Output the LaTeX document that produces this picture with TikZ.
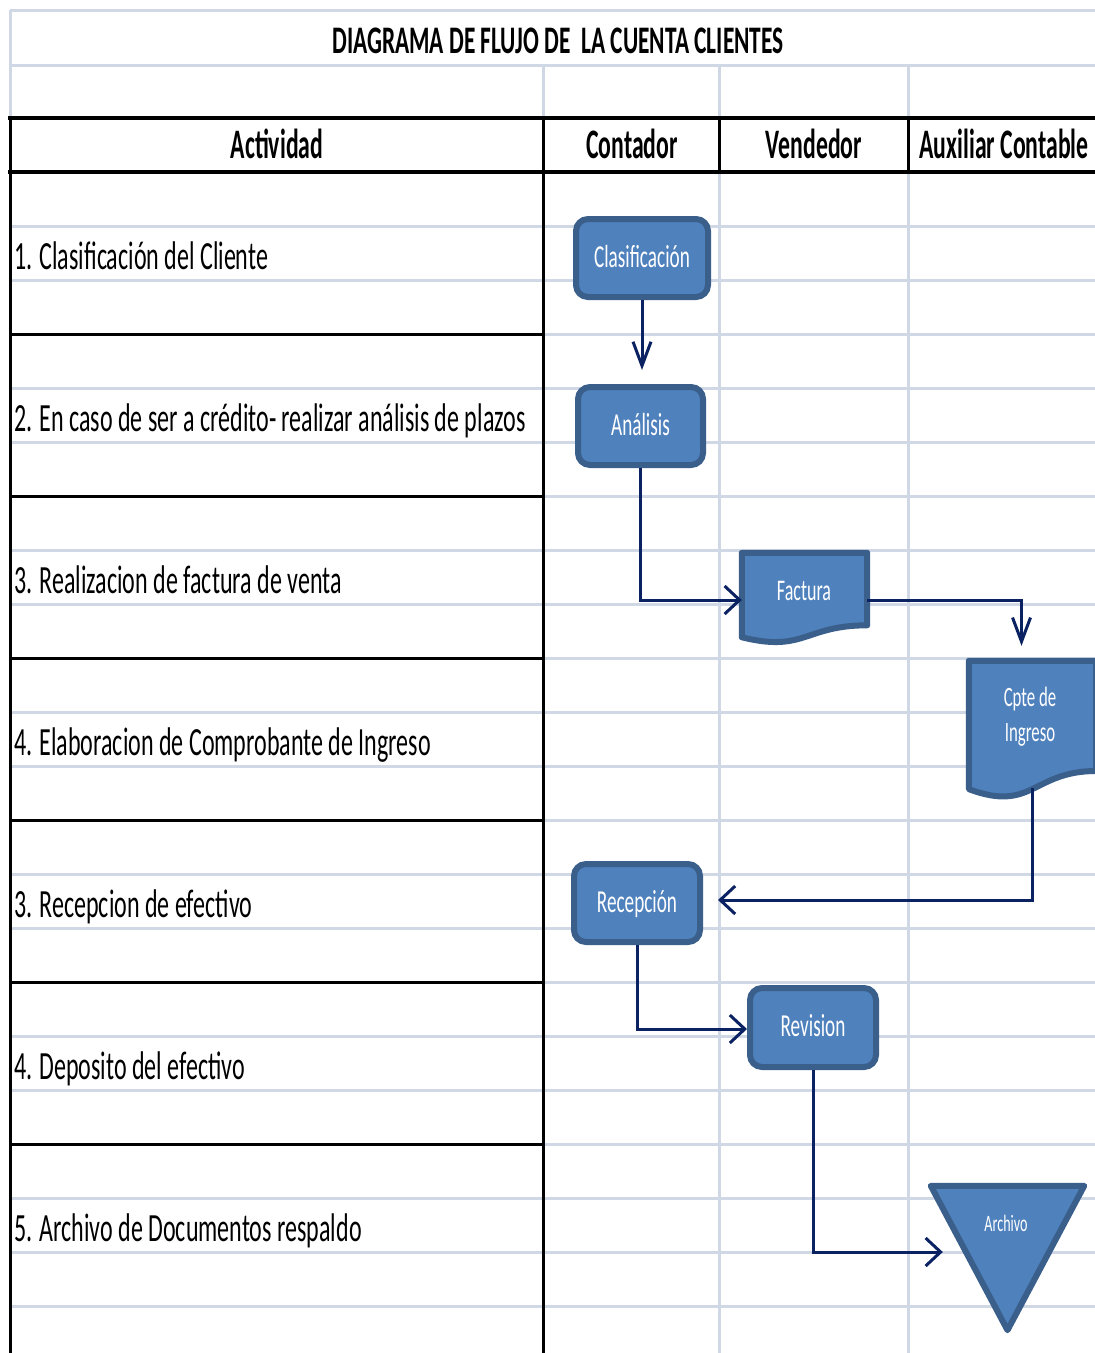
\documentclass[tikz,border=0pt]{standalone}
\usepackage{fontspec}
\setmainfont{Carlito}[FakeStretch=0.6]
\newfontfamily\headfont{Carlito}[FakeStretch=0.565]
\usetikzlibrary{arrows.meta,calc}

\definecolor{gridc}{HTML}{D0D7E5}
\definecolor{boxfill}{HTML}{4F81BD}
\definecolor{boxdraw}{HTML}{3A5F8B}
\definecolor{flowc}{HTML}{0B2262}

% document symbol with a wavy lower edge, drawn on the box of node #1
\newcommand\docpath[1]{%
  \draw[shapeline] (#1.north west) -- (#1.north east)
    -- ($(#1.north east)!0.802!(#1.south east)$)
    .. controls ($(#1.north)!0.802!(#1.south)$) and ($(#1.north)!1.107!(#1.south)$)
    .. ($(#1.north west)!0.934!(#1.south west)$) -- cycle;}

\begin{document}
\begin{tikzpicture}[x=1pt,y=-1pt,
  gridline/.style={draw=gridc, line width=3pt},
  rule/.style={draw=black, line width=3pt},
  heavyrule/.style={draw=black, line width=4.5pt},
  titletext/.style={font=\bfseries\fontsize{39}{46}\selectfont, anchor=base},
  headtext/.style={font=\headfont\bfseries\fontsize{42}{48}\selectfont, anchor=base},
  acttext/.style={font=\fontsize{40}{47}\selectfont, anchor=base west, inner sep=0pt},
  shapeline/.style={fill=boxfill, draw=boxdraw, line width=6pt, line join=round},
  procbox/.style={rectangle, rounded corners=12pt, fill=boxfill, draw=boxdraw,
    line width=6pt, text=white, font=\fontsize{32}{36}\selectfont,
    inner sep=0pt, text height=18pt, text depth=0pt},
  hollow/.style={rectangle, inner sep=0pt, draw=none},
  boxtext/.style={text=white, font=\fontsize{30}{35}\selectfont, anchor=base, inner sep=0pt},
  flow/.style={draw=flowc, line width=3pt},
  htip/.style={-{Straight Barb[length=15pt,width=28pt]}},
  vtip/.style={-{Straight Barb[length=24pt,width=18pt]}}]

\useasboundingbox (0,0) rectangle (1095,1353);
\clip (0,0) rectangle (1095,1353);
\fill[white] (0,0) rectangle (1095,1353);

% light sheet grid
\foreach \y in {10,65,226,280,388,442,550,604,712,766,874,928,1036,1090,1198,1252,1306}
  \draw[gridline] (10,\y) -- (1095,\y);
\foreach \y in {334,496,658,820,982,1144}
  \draw[gridline] (543,\y) -- (1095,\y);
\draw[gridline] (10,10) -- (10,118);
\foreach \x in {543,719,908}
  \draw[gridline] (\x,65) -- (\x,118);
\foreach \x in {719,908}
  \draw[gridline] (\x,172) -- (\x,1353);

% black table rules
\draw[rule] (10,118) -- (10,1353);
\draw[rule] (543,118) -- (543,1353);
\foreach \x in {719,908}
  \draw[rule] (\x,118) -- (\x,172);
\foreach \y in {334,496,658,820,982,1144}
  \draw[rule] (10,\y) -- (543,\y);
\draw[heavyrule] (8,118) -- (1095,118);
\draw[heavyrule] (8,172) -- (1095,172);

% title and column headers
\node[titletext] (title) at (558,53) {DIAGRAMA DE FLUJO DE \ LA CUENTA CLIENTES};
\node[headtext] (hAct) at (277,158) {Actividad};
\node[headtext] (hCon) at (632,158) {Contador};
\node[headtext] (hVen) at (814,158) {Vendedor};
\node[headtext] (hAux) at (1004,158) {Auxiliar Contable};

% activities
\node[acttext] (a1) at (14,269.5) {1. Clasificación del Cliente};
\node[acttext] (a2) at (14,431.5) {2. En caso de ser a crédito- realizar análisis de plazos};
\node[acttext] (a3) at (14,593.5) {3. Realizacion de factura de venta};
\node[acttext] (a4) at (14,755.5) {4. Elaboracion de Comprobante de Ingreso};
\node[acttext] (a5) at (14,917.5) {3. Recepcion de efectivo};
\node[acttext] (a6) at (14,1079.5) {4. Deposito del efectivo};
\node[acttext] (a7) at (14,1241.5) {5. Archivo de Documentos respaldo};

% flow symbols
\node[procbox, minimum width=132pt, minimum height=78pt] (clas) at (642,258) {Clasificación};
\node[procbox, minimum width=125pt, minimum height=78pt] (anal) at (640.5,426) {Análisis};
\node[hollow, minimum width=125pt, minimum height=90pt] (fact) at (804.5,598) {};
\docpath{fact}
\node[boxtext] (factT) at (804,600.5) {Factura};
\node[hollow, minimum width=127pt, minimum height=137pt] (cpte) at (1032.5,729.5) {};
\docpath{cpte}
\node[boxtext, font=\fontsize{28}{33}\selectfont] (cpteA) at (1030,706.5) {Cpte de};
\node[boxtext, font=\fontsize{28}{33}\selectfont] (cpteB) at (1030,741.5) {Ingreso};
\node[procbox, minimum width=126pt, minimum height=78pt] (rec) at (637,903) {Recepción};
\node[procbox, minimum width=126pt, minimum height=79pt] (rev) at (813,1027.5) {Revision};
\node[hollow, minimum width=153pt, minimum height=144pt] (arch) at (1007.5,1258) {};
\draw[shapeline] (arch.north west) -- (arch.north east) -- (arch.south) -- cycle;
\node[boxtext, font=\fontsize{23.5}{28}\selectfont] (archT) at (1006,1231.5) {Archivo};

% connectors
\draw[flow, vtip, shorten >=14pt] (clas.south) -- (clas.south |- anal.north);
\draw[flow, htip] (anal.south) |- ([yshift=-2pt]fact.west);
\draw[flow, vtip, shorten >=15pt] ([yshift=-2pt]fact.east) -| ($(cpte.north)+(-11,0)$);
\draw[flow, htip, shorten >=15pt] ($(cpte.south)+(0,-10)$) |- ([yshift=3pt]rec.east);
\draw[flow, htip] (rec.south) |- ([yshift=-1.5pt]rev.west);
\draw[flow, htip] (rev.south) |- ($(arch.west)+(12,-6)$);
\end{tikzpicture}
\end{document}
